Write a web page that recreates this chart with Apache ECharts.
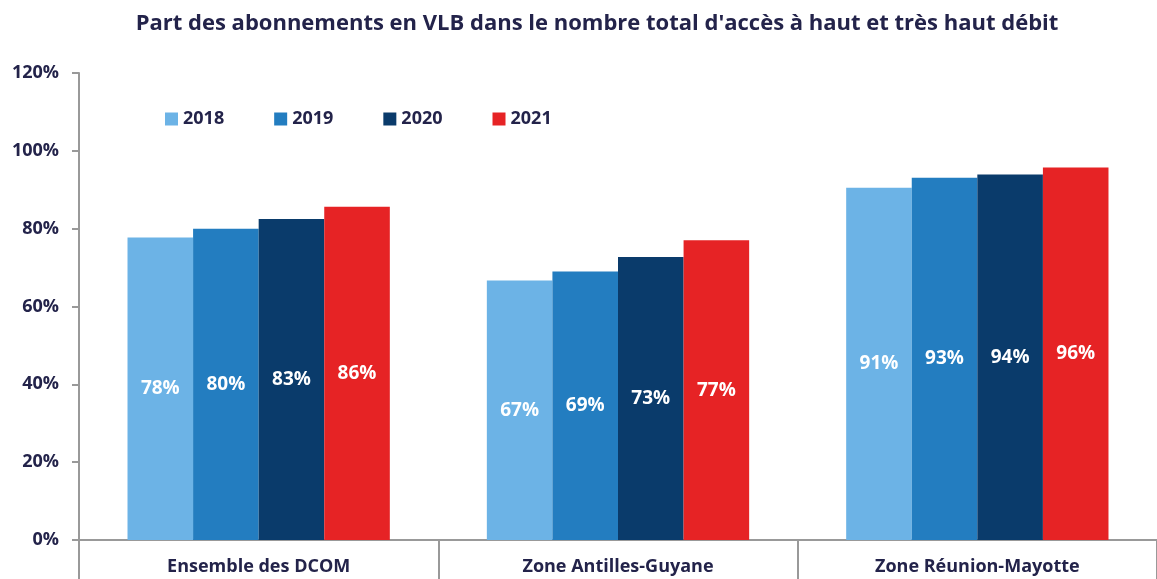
<!DOCTYPE html>
<html>
<head>
<meta charset="utf-8">
<script src="https://cdn.jsdelivr.net/npm/echarts@6/dist/echarts.min.js"></script>
<style>
  html, body { margin: 0; padding: 0; background: #fff; }
  #chart { width: 1157px; height: 579px; }
</style>
</head>
<body>
<div id="chart"></div>
<script>
const categories = ['Ensemble des DCOM', 'Zone Antilles-Guyane', 'Zone Réunion-Mayotte']
const years = ['2018', '2019', '2020', '2021']
const values2018 = [77.7, 66.7, 90.5]
const values2019 = [80.0, 69.0, 93.1]
const values2020 = [82.5, 72.7, 93.9]
const values2021 = [85.6, 77.0, 95.7]
const yTicks = [0, 20, 40, 60, 80, 100, 120]

const colors = ['#6cb3e6', '#237dc0', '#0a3b6b', '#e62325']
const textColor = '#23234a'
const font = '"Open Sans", "Noto Sans", sans-serif'

const chart = echarts.init(document.getElementById('chart'))

const series = [values2018, values2019, values2020, values2021].map((data, i) => {
  return {
    type: 'bar',
    name: years[i],
    data: data,
    barGap: '0%',
    barCategoryGap: '27%',
    itemStyle: { color: colors[i] },
    label: {
      show: true,
      position: 'inside',
      formatter: p => Math.round(p.value) + '%',
      color: '#fff',
      fontWeight: 'bold',
      fontSize: 19,
      fontFamily: font
    }
  }
})

chart.setOption({
  animation: false,
  color: colors,
  title: {
    text: "Part des abonnements en VLB dans le nombre total d'accès à haut et très haut débit",
    left: 592,
    textAlign: 'center',
    top: 8,
    textStyle: {
      color: textColor,
      fontSize: 22,
      fontWeight: 'bold',
      fontFamily: font
    }
  },
  legend: {
    left: 160,
    top: 105,
    itemWidth: 13,
    itemHeight: 13,
    itemGap: 50,
    icon: 'rect',
    textStyle: {
      color: textColor,
      fontSize: 18,
      fontWeight: 'bold',
      fontFamily: font
    },
    data: years
  },
  grid: {
    left: 79,
    top: 73,
    width: 1086,
    bottom: 39,
    containLabel: false
  },
  xAxis: {
    type: 'category',
    data: categories,
    axisLine: { lineStyle: { color: '#999', width: 2 } },
    axisTick: {
      show: true,
      alignWithLabel: false,
      length: 40,
      lineStyle: { color: '#999', width: 2 }
    },
    axisLabel: {
      color: textColor,
      fontSize: 18,
      fontWeight: 'bold',
      fontFamily: font,
      margin: 18
    }
  },
  yAxis: {
    type: 'value',
    min: yTicks[0],
    max: yTicks[yTicks.length - 1],
    interval: 20,
    axisLine: { show: true, lineStyle: { color: '#999', width: 2 } },
    axisTick: { show: true, length: 7, lineStyle: { color: '#999', width: 2 } },
    splitLine: { show: false },
    axisLabel: {
      formatter: '{value}%',
      color: textColor,
      fontSize: 18,
      fontWeight: 'bold',
      fontFamily: font,
      margin: 20
    }
  },
  series: series
})
</script>
</body>
</html>
